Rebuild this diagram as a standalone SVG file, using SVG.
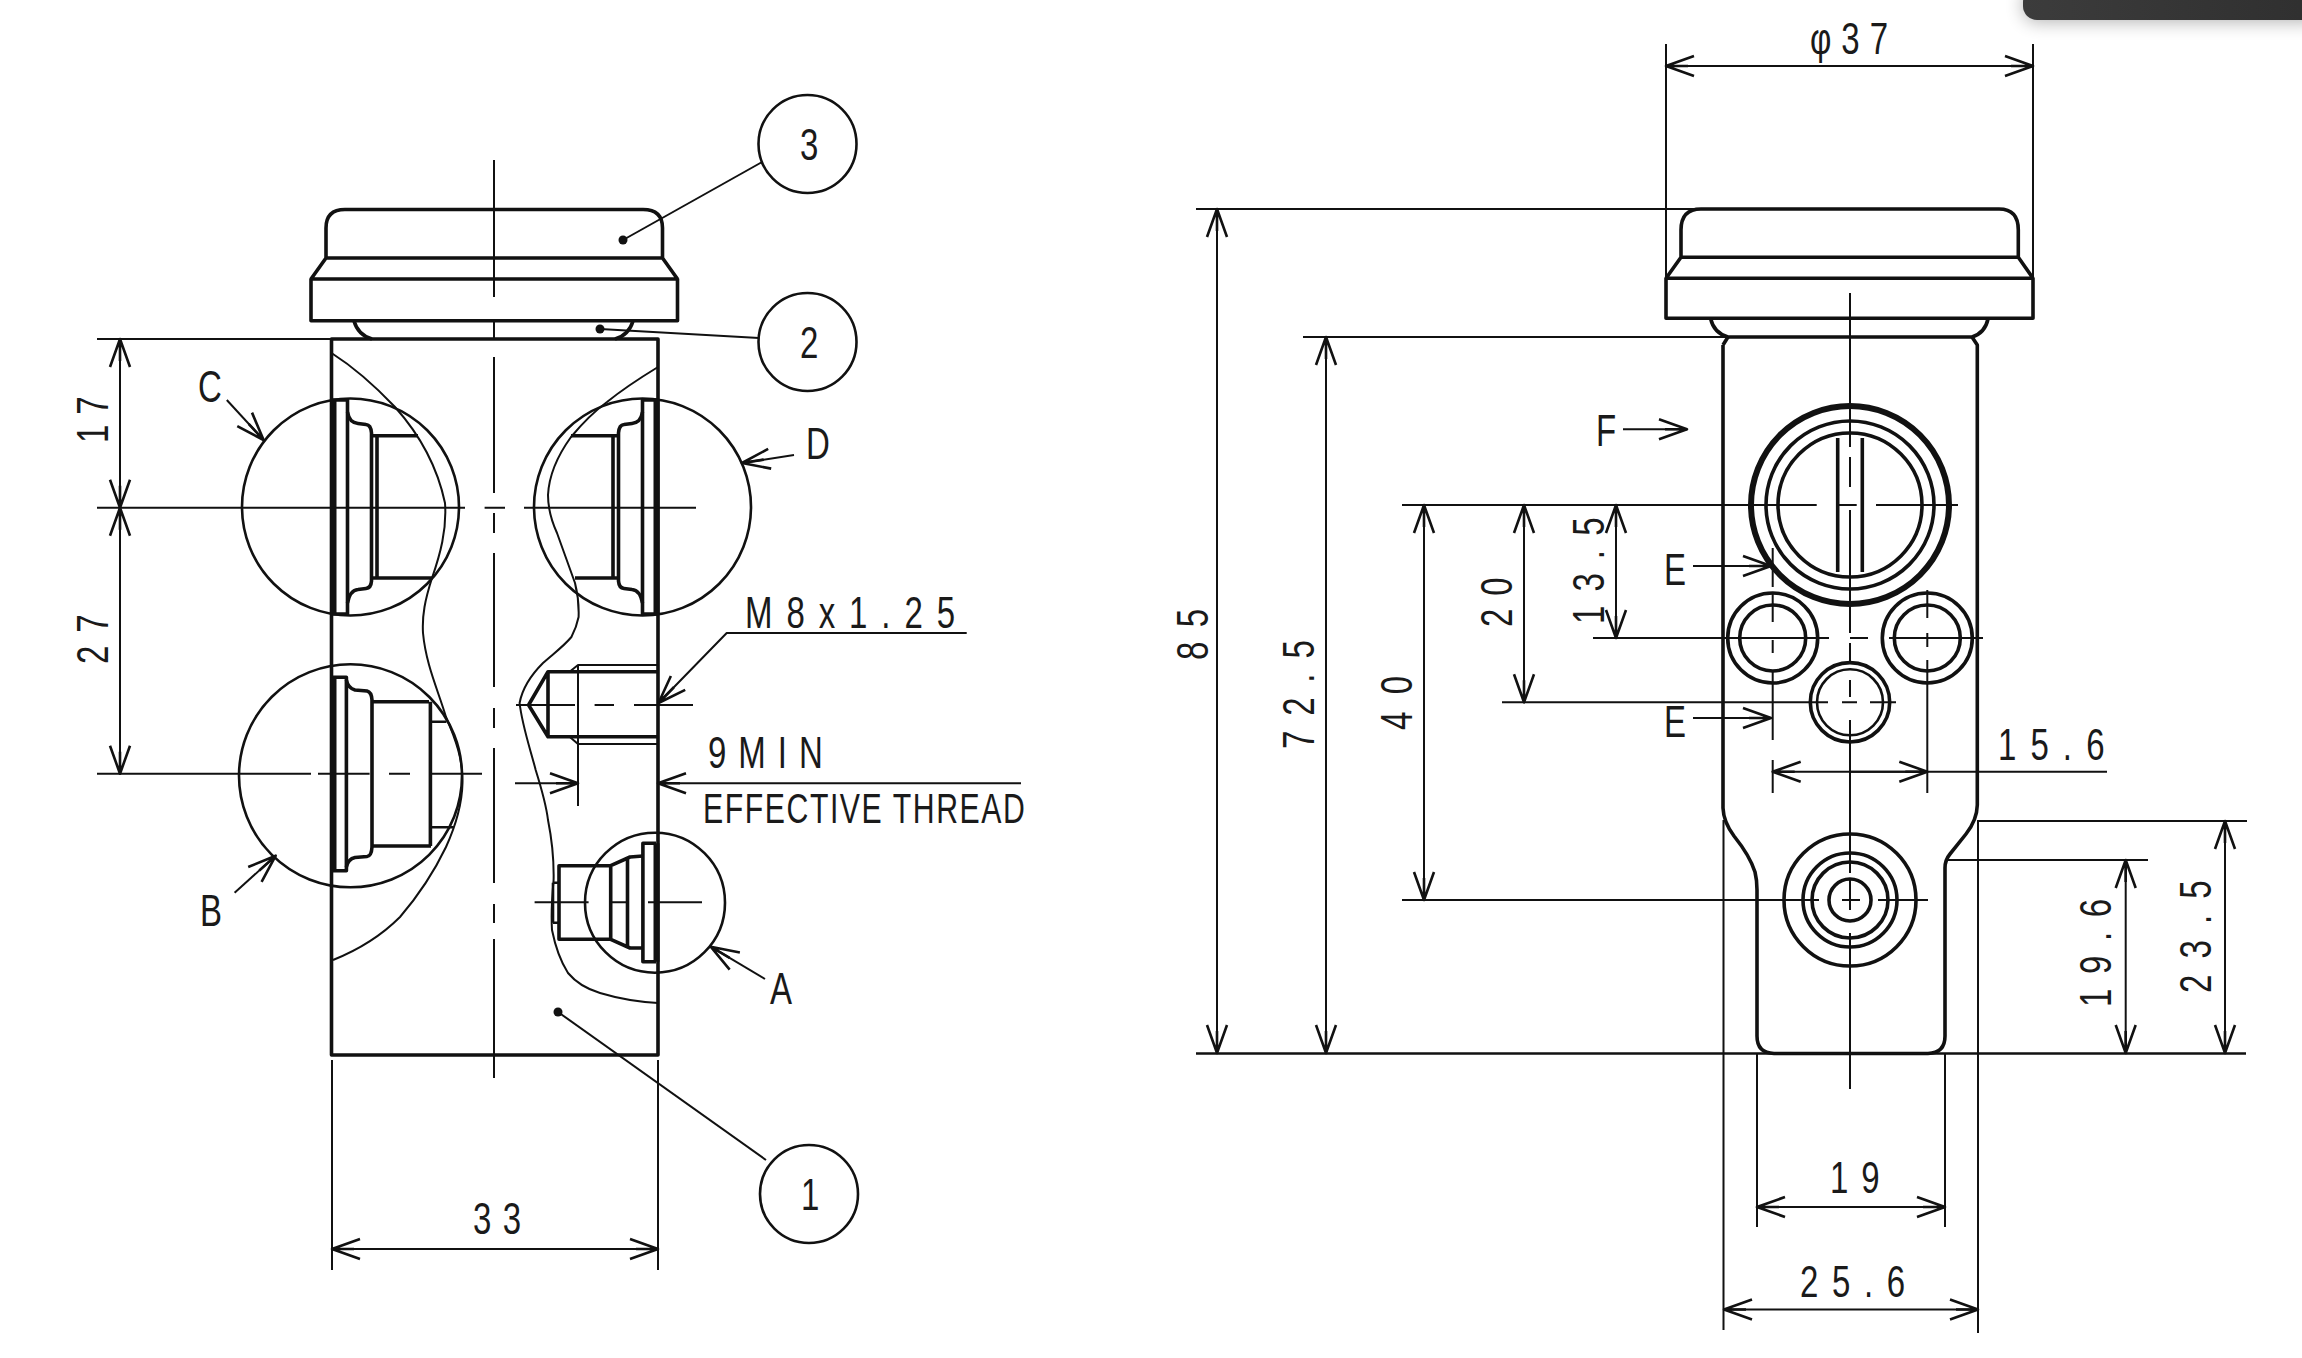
<svg xmlns="http://www.w3.org/2000/svg" width="2302" height="1358" viewBox="0 0 2302 1358">
<defs>
<marker id="a" markerUnits="userSpaceOnUse" markerWidth="34" markerHeight="26" viewBox="-30 -13 34 26" refX="0" refY="0" orient="auto-start-reverse"><path d="M-28,-10 L0,0 L-28,10 M-22,0 L0,0" fill="none" stroke="#111" stroke-width="2.4"/></marker>
<linearGradient id="bar" x1="0" x2="1" y1="0" y2="0"><stop offset="0" stop-color="#3c3c3c"/><stop offset="1" stop-color="#2f2f2f"/></linearGradient>
<filter id="sh" x="-10%" y="-100%" width="120%" height="400%"><feGaussianBlur stdDeviation="9"/></filter>
</defs>
<style>
path,line,circle,rect.o{fill:none;stroke:#111;stroke-width:2.6;stroke-linejoin:round}
.th{stroke-width:2}
.m{stroke-width:3.6}
.h{stroke-width:6}
.d{marker-end:url(#a)}
.dd{marker-start:url(#a);marker-end:url(#a)}
.dot{fill:#111;stroke:none}
text{font-family:"Liberation Sans",Arial,sans-serif;font-size:44px;fill:#1a1a1a;stroke:none}
.s{font-size:42px}
.b{fill:#fff}
</style>
<rect width="2302" height="1358" fill="#fff"/>
<g id="window-edge">
<rect x="2023" y="-12" width="300" height="34" rx="14" fill="#000" opacity=".3" filter="url(#sh)"/>
<rect x="2023" y="-12" width="300" height="32" rx="14" fill="url(#bar)"/>
</g>

<g id="left-view">
<g id="left-cap">
<path class="m" d="M326,258 V228 Q326,209.5 345,209.5 H643 Q662.5,209.5 662.5,228 V258 M326,258 H662.5 M326,258 L311,279 M662.5,258 L677.5,279 M311,279 H677.5 V320.7 H311 Z"/>
<path class="m" d="M354,321 Q358,335 372,339 M633,321 Q629,335 615,339"/>
</g>
<path id="left-body" class="m" d="M331.5,339 H658 V1055 H331.5 Z"/>
<path class="th" d="M494,160 V297 M494,322 V339 M494,357 V493 M494,513 V533 M494,553 V687 M494,708 V728 M494,748 V883 M494,904 V923 M494,939 V1078"/>
<g id="left-outline">
<path class="th" d="M331.5,353 C355,368 376,387 395,407 C420,435 437,465 445,503 C447,530 440,555 432,578 C425,600 422,615 423,633 C426,665 438,690 446,717 C456,740 463,760 462.5,783 C462,805 456,825 446,847 C434,872 418,896 400,917 C380,937 358,950 333,960"/>
<path class="th" d="M658,367 C640,378 623,389 607,402 C592,413 581,425 571,437 C558,455 549,475 548,495 C548,510 552,522 557,533 L575,583 C578,595 579,606 578.6,617 C577,625 575,630 571.4,637 C563,647 553,654 543,663 C530,676 522,690 519.6,703 C522,725 530,748 535.7,770 C541,787 546,803 548,820 C552,840 554,860 553.6,880 C552,897 551,913 552,930 C556,950 561,962 568,973 C578,985 590,990 600,993 C620,999 640,1002 658,1003"/>
</g>
<g id="port-c">
<circle cx="350.5" cy="507" r="108.5"/>
<path class="m" d="M333,400 H347.5 V614 H333"/>
<path class="h" d="M333.5,400 V614"/>
<path class="m" d="M347.5,412 C349,420 352,423 358,423.5 L366,424.5 Q371,425 371.5,433 V581 Q371,588 366,588.5 L358,589.5 C352,590 349,595 347.5,603 M377,436 V578 M371.5,435.7 H418 M371.5,578 H432"/>
</g>
<g id="port-d">
<circle cx="642.5" cy="507" r="108.5"/>
<path class="m" d="M657,400 H642.5 V614 H657"/>
<path class="h" d="M656.5,400 V614"/>
<path class="m" d="M642.5,412 C641,420 638,423 632,423.5 L624,424.5 Q619,425 618.5,433 V581 Q619,588 624,588.5 L632,589.5 C638,590 641,595 642.5,603 M613,436 V578 M618.5,435.7 H571 M618.5,578 H575"/>
</g>
<g id="port-b">
<circle cx="350.5" cy="775.8" r="111.5"/>
<path class="m" d="M333,677.3 H346.4 V870.7 H333"/>
<path class="h" d="M333.5,677.3 V870.7"/>
<path class="m" d="M346.4,680 Q348,688 355,690 L367,691 Q371.5,692 372,700 V847 Q371.5,856 367,856.5 L355,857.5 Q348,859 346.4,867 M372,701.7 H429 M372,846 H431 M430.4,701.7 V846"/>
<path d="M430.4,721.7 H446.4 M430.4,827.3 H453.6"/>
</g>
<g id="port-a">
<circle cx="655" cy="902.7" r="70"/>
<path class="m" d="M656,843.3 H642.9 V961.7 H656"/>
<path class="h" d="M656.5,843.3 V961.7"/>
<path class="m" d="M642.9,856 L630,857 L610.7,865.7 H559 V939.3 H610.7 L630,948 H642.9 M610.7,865.7 V939.3 M627.5,857 V948"/>
<path d="M559,882.7 H553 M559,922.7 H553 M553,882.7 V922.7"/>
</g>
<g id="thread-hole">
<path class="m" d="M658,671.7 H548 L528.6,705 L548,736.7 H658 M548,671.7 V736.7"/>
<path class="th" d="M658,665 H578 L569.6,671.7 M658,744 H578 L569.6,736.7 M578,665 V806"/>
</g>
<g id="left-centerlines">
<path class="th" d="M97,507.7 H465 M484.6,507.7 H505 M524,507.7 H696"/>
<path class="th" d="M97,773.7 H311 M318,773.7 H369.6 M389,773.7 H410 M430,773.7 H482"/>
<path class="th" d="M516,705 H575 M594.6,705 H614 M634,705 H693"/>
<path class="th" d="M534.6,902.3 H588.6 M609,902.3 H627 M648,902.3 H702"/>
</g>
</g>

<g id="right-view">
<g id="right-cap">
<path class="m" d="M1681,257.3 V230 Q1681,209 1701,209 H1999 Q2018.3,209 2018.3,230 V257.3 M1681,257.3 H2018.3 M1681,257.3 L1666,278.3 M2018.3,257.3 L2033,278.3 M1666,278.3 H2033 V318.3 H1666 Z"/>
<path class="m" d="M1710.7,319 Q1714,333 1728,337 H1972 Q1985,333 1988,319"/>
</g>
<path id="right-body" class="m" d="M1723,345 L1728,337 M1723,345 V808 Q1723.5,822 1734,836 Q1750,856 1755,872 Q1757,880 1757,890 V1036 Q1757,1053 1774,1053.5 H1928 Q1945,1053 1945,1036 V868 Q1945,860 1950,854 L1966,834 Q1977,820 1977.3,805 V345 L1972,337"/>
<g id="port-main">
<circle class="h" cx="1850" cy="505" r="99"/>
<circle class="m" cx="1850" cy="505" r="84"/>
<circle class="m" cx="1850" cy="505" r="72"/>
<path class="m" d="M1837.7,438 V572 M1862.3,438 V572"/>
</g>
<g id="port-left"><circle class="m" cx="1772.7" cy="638" r="45"/><circle class="m" cx="1772.7" cy="638" r="33"/></g>
<g id="port-right"><circle class="m" cx="1927.3" cy="638" r="45"/><circle class="m" cx="1927.3" cy="638" r="33"/></g>
<g id="port-center"><circle class="m" cx="1850" cy="702.3" r="39.7"/><circle cx="1850" cy="702.3" r="33"/></g>
<g id="port-lower"><circle class="m" cx="1850" cy="900" r="66"/><circle class="m" cx="1850" cy="900" r="47"/><circle class="m" cx="1850" cy="900" r="38"/><circle class="m" cx="1850" cy="900" r="21"/></g>
<g id="right-centerlines">
<path class="th" d="M1850,293 V447 M1850,457 V487 M1850,510 V633 M1850,643 V662 M1850,680 V697 M1850,720 V873 M1850,880 V910 M1850,933 V1089"/>
<path class="th" d="M1402,505 H1816.7 M1836.7,505 H1856.7 M1876,505 H1958"/>
<path class="th" d="M1593,638 H1829 M1850,638 H1868 M1889,638 H1983"/>
<path class="th" d="M1502,702.3 H1828 M1842,702.3 H1857 M1870,702.3 H1896"/>
<path class="th" d="M1402,900 H1819 M1842,900 H1860 M1878,900 H1928"/>
<path class="th" d="M1772.7,548 V587 M1772.7,592 V622 M1772.7,640 V653 M1772.7,672 V740 M1772.7,760 V793"/>
<path class="th" d="M1927.3,590 V618 M1927.3,633 V647 M1927.3,660 V793"/>
</g>
</g>

<g id="connectors">
<g id="left-dims">
<path class="th" d="M97,339 H331 M120,339 V507.7"/>
<path class="th dd" d="M120,339 V507.7"/>
<path class="th dd" d="M120,507.7 V773.7"/>
<path class="th" d="M332,1060 V1270 M658,1060 V1270"/>
<path class="th dd" d="M332,1249 H658"/>
<path class="th d" d="M515,783.3 H578"/>
<path class="th d" d="M1021,783.3 H658"/>
<path class="th d" d="M966.7,633 H726.7 L658.5,703"/>
<path class="th" d="M658,705 H693"/>
<path class="th d" d="M226.8,400 L263.6,440"/>
<path class="th d" d="M794,455 L742,463"/>
<path class="th d" d="M234.6,892.7 L275.7,855.7"/>
<path class="th d" d="M765,979 L710.7,946.7"/>
<path class="th" d="M623,240 L763,161.5"/><circle class="dot" cx="623" cy="240" r="4.5"/>
<path class="th" d="M600,329 L759,338"/><circle class="dot" cx="600" cy="329" r="4.5"/>
<path class="th" d="M558,1012 L766,1160"/><circle class="dot" cx="558" cy="1012" r="4.5"/>
</g>
<g id="right-dims">
<path class="th" d="M1666,44 V278 M2033,44 V278"/>
<path class="th dd" d="M1666,66 H2033"/>
<path class="th" d="M1196,209 H1700"/>
<path d="M1196,1053.5 H2246"/>
<path class="th" d="M1303,337 H1728"/>
<path class="th dd" d="M1217,209 V1053"/>
<path class="th dd" d="M1326,337 V1053"/>
<path class="th dd" d="M1424,505 V900"/>
<path class="th dd" d="M1524,505 V702.3"/>
<path class="th dd" d="M1616,505 V638"/>
<path class="th d" d="M1693,566 H1771"/>
<path class="th d" d="M1693,718 H1771"/>
<path class="th d" d="M1623,429.3 H1687"/>
<path class="th d" d="M2107,771.7 H1772.7"/>
<path class="th d" d="M1850,771.7 H1927.3"/>
<path class="th" d="M1977,821 H2247 M1945,860 H2148"/>
<path class="th dd" d="M2125.7,860 V1053"/>
<path class="th dd" d="M2225,821 V1053"/>
<path class="th" d="M1723.5,820 V1330 M1978,820 V1333 M1757,1053 V1227 M1945,1053 V1227"/>
<path class="th dd" d="M1757,1207 H1945"/>
<path class="th dd" d="M1724,1309.5 H1978"/>
</g>
</g>

<g id="balloon-3"><circle class="b" cx="807.5" cy="144" r="49"/><text transform="translate(800,160) scale(.75,1)">3</text></g>
<g id="balloon-2"><circle class="b" cx="807.5" cy="342" r="49"/><text transform="translate(800,358) scale(.75,1)">2</text></g>
<g id="balloon-1"><circle class="b" cx="809" cy="1194" r="49"/><text transform="translate(801,1210) scale(.75,1)">1</text></g>

<g id="labels">
<text transform="translate(745,628) scale(.75,1)" textLength="280" lengthAdjust="spacing">M8x1.25</text>
<text transform="translate(708,768) scale(.75,1)" textLength="153" lengthAdjust="spacing">9MIN</text>
<text class="s" transform="translate(703,823) scale(.72,1)" textLength="447" lengthAdjust="spacing">EFFECTIVE THREAD</text>
<text transform="translate(198,402) scale(.75,1)">C</text>
<text transform="translate(806,459) scale(.75,1)">D</text>
<text transform="translate(200,926) scale(.75,1)">B</text>
<text transform="translate(770,1004) scale(.75,1)">A</text>
<text transform="translate(473,1234) scale(.75,1)" textLength="64" lengthAdjust="spacing">33</text>
<text transform="translate(108,443) rotate(-90) scale(.75,1)" textLength="62" lengthAdjust="spacing">17</text>
<text transform="translate(108,664) rotate(-90) scale(.75,1)" textLength="66" lengthAdjust="spacing">27</text>
<text transform="translate(1810,54) scale(.75,1)" textLength="104" lengthAdjust="spacing">φ37</text>
<text transform="translate(1208,660) rotate(-90) scale(.75,1)" textLength="68" lengthAdjust="spacing">85</text>
<text transform="translate(1314,749) rotate(-90) scale(.75,1)" textLength="145" lengthAdjust="spacing">72.5</text>
<text transform="translate(1412,730) rotate(-90) scale(.75,1)" textLength="72" lengthAdjust="spacing">40</text>
<text transform="translate(1512,627) rotate(-90) scale(.75,1)" textLength="66" lengthAdjust="spacing">20</text>
<text transform="translate(1604,624) rotate(-90) scale(.75,1)" textLength="142" lengthAdjust="spacing">13.5</text>
<text transform="translate(1596,446) scale(.75,1)">F</text>
<text transform="translate(1664,585) scale(.75,1)">E</text>
<text transform="translate(1664,737) scale(.75,1)">E</text>
<text transform="translate(1998,760) scale(.75,1)" textLength="142" lengthAdjust="spacing">15.6</text>
<text transform="translate(2111.4,1007) rotate(-90) scale(.75,1)" textLength="144" lengthAdjust="spacing">19.6</text>
<text transform="translate(2210.6,993) rotate(-90) scale(.75,1)" textLength="150" lengthAdjust="spacing">23.5</text>
<text transform="translate(1830,1193) scale(.75,1)" textLength="66" lengthAdjust="spacing">19</text>
<text transform="translate(1800,1297) scale(.75,1)" textLength="140" lengthAdjust="spacing">25.6</text>
</g>
</svg>
